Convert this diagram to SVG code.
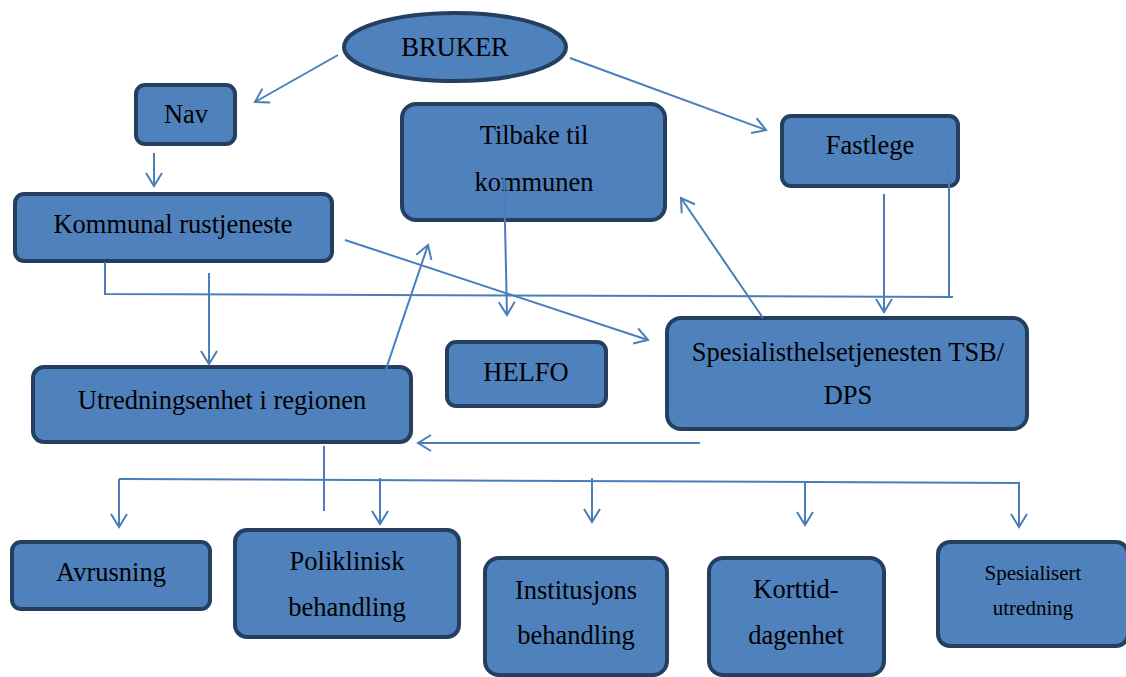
<svg xmlns="http://www.w3.org/2000/svg" width="1126" height="677" viewBox="0 0 1126 677">
<style>
.box{fill:#4F81BD;stroke:#243F60;stroke-width:4}
.t{font-family:"Liberation Serif","Times New Roman",serif;font-size:26.5px;fill:#000;text-anchor:middle}
.s{font-size:21px}
.c{fill:none;stroke:#4A7EBB;stroke-width:2}
</style>
<defs>
<marker id="a" markerWidth="18" markerHeight="20" refX="15" refY="10" orient="auto" markerUnits="userSpaceOnUse">
<path d="M2,2 L15,10 L2,18" fill="none" stroke="#4A7EBB" stroke-width="2"/>
</marker>
</defs>
<rect width="1126" height="677" fill="#fff"/>
<g id="bruker"><ellipse class="box" cx="455" cy="47" rx="111" ry="34"/><text class="t" x="455" y="56">BRUKER</text></g>
<g id="nav"><rect class="box" x="136" y="85" width="99" height="59" rx="9"/><text class="t" x="186" y="123">Nav</text></g>
<g id="kommunal"><rect class="box" x="15" y="194" width="317" height="67" rx="9"/><text class="t" x="173" y="233">Kommunal rustjeneste</text></g>
<g id="tilbake"><rect class="box" x="402" y="104" width="263" height="116" rx="14"/><text class="t" x="534" y="144">Tilbake til</text><text class="t" x="534" y="191">kommunen</text></g>
<g id="fastlege"><rect class="box" x="782" y="116" width="176" height="70" rx="9"/><text class="t" x="870" y="154">Fastlege</text></g>
<g id="helfo"><rect class="box" x="447" y="342" width="159" height="64" rx="9"/><text class="t" x="526" y="381">HELFO</text></g>
<g id="spesialist"><rect class="box" x="667" y="318" width="360" height="111" rx="14"/><text class="t" x="848" y="361">Spesialisthelsetjenesten TSB/</text><text class="t" x="848" y="404">DPS</text></g>
<g id="utredning"><rect class="box" x="33" y="367" width="378" height="75" rx="11"/><text class="t" x="222" y="409">Utredningsenhet i regionen</text></g>
<g id="avrusning"><rect class="box" x="12" y="542" width="198" height="67" rx="9"/><text class="t" x="111" y="581">Avrusning</text></g>
<g id="poliklinisk"><rect class="box" x="235" y="530" width="224" height="107" rx="12"/><text class="t" x="347" y="570">Poliklinisk</text><text class="t" x="347" y="616">behandling</text></g>
<g id="institusjons"><rect class="box" x="485" y="558" width="182" height="117" rx="14"/><text class="t" x="576" y="599">Institusjons</text><text class="t" x="576" y="644">behandling</text></g>
<g id="korttid"><rect class="box" x="709" y="558" width="175" height="117" rx="14"/><text class="t" x="796" y="598">Korttid-</text><text class="t" x="796" y="644">dagenhet</text></g>
<g id="spesialisert"><rect class="box" x="938" y="542" width="190" height="104" rx="12"/><text class="t s" x="1033" y="580">Spesialisert</text><text class="t s" x="1033" y="615">utredning</text></g>
<g id="connectors">
<line class="c" x1="338" y1="55" x2="255" y2="102" marker-end="url(#a)"/>
<line class="c" x1="570" y1="58" x2="766" y2="130" marker-end="url(#a)"/>
<line class="c" x1="154" y1="153" x2="154" y2="186" marker-end="url(#a)"/>
<line class="c" x1="209" y1="273" x2="209" y2="364" marker-end="url(#a)"/>
<polyline class="c" points="105,262 105,294 953,297"/>
<line class="c" x1="949" y1="165" x2="949" y2="297"/>
<line class="c" x1="884" y1="194" x2="884" y2="312" marker-end="url(#a)"/>
<line class="c" x1="345" y1="240" x2="648" y2="340" marker-end="url(#a)"/>
<line class="c" x1="504" y1="178" x2="507" y2="315" marker-end="url(#a)"/>
<line class="c" x1="383" y1="378" x2="428" y2="245" marker-end="url(#a)"/>
<line class="c" x1="763" y1="318" x2="681" y2="198" marker-end="url(#a)"/>
<line class="c" x1="700" y1="443" x2="418" y2="443" marker-end="url(#a)"/>
<line class="c" x1="324" y1="446" x2="324" y2="511"/>
<line class="c" x1="119" y1="479" x2="1020" y2="483"/>
<line class="c" x1="119" y1="479" x2="119" y2="527" marker-end="url(#a)"/>
<line class="c" x1="380" y1="478" x2="380" y2="524" marker-end="url(#a)"/>
<line class="c" x1="592" y1="478" x2="592" y2="522" marker-end="url(#a)"/>
<line class="c" x1="805" y1="481" x2="805" y2="525" marker-end="url(#a)"/>
<line class="c" x1="1019" y1="483" x2="1019" y2="527" marker-end="url(#a)"/>
</g>
</svg>
